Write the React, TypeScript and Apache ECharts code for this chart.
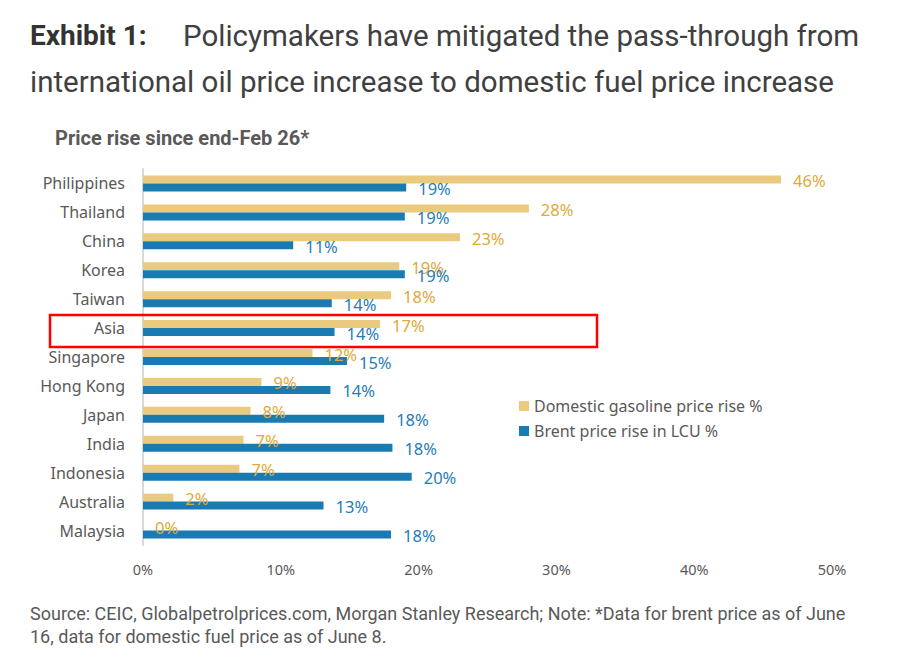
import React, { useEffect, useRef } from "react";
import * as echarts from "echarts";

const categories = [
  "Philippines", "Thailand", "China", "Korea", "Taiwan", "Asia", "Singapore",
  "Hong Kong", "Japan", "India", "Indonesia", "Australia", "Malaysia",
];
const gasoline = [46.3, 28.0, 23.0, 18.6, 18.0, 17.2, 12.3, 8.6, 7.8, 7.3, 7.0, 2.2, 0];
const brent = [19.1, 19.0, 10.9, 19.0, 13.7, 13.9, 14.8, 13.6, 17.5, 18.1, 19.5, 13.1, 18.0];
const xTicks = [0, 10, 20, 30, 40, 50];
const seriesNames = ["Domestic gasoline price rise %", "Brent price rise in LCU %"];

const GOLD = "#E9CA7E";
const BLUE = "#1A7BB3";
const GREY = "#595959";
const FONT = "Noto Sans";

export default function App() {
  const ref = useRef<HTMLDivElement>(null);
  useEffect(() => {
    if (!ref.current) return;
    const chart = echarts.init(ref.current, null, { renderer: "svg" });
    const lbl = (color: string) => ({
      show: true,
      position: "right" as const,
      distance: 12,
      offset: [0, 1],
      color,
      fontFamily: FONT,
      fontSize: 16.5,
      formatter: (p: any) => Math.round(p.value) + "%",
    });
    chart.setOption({
      animation: false,
      backgroundColor: "#ffffff",
      grid: { left: 143, right: 70, top: 169, bottom: 125, containLabel: false },
      xAxis: {
        type: "value",
        min: xTicks[0],
        max: xTicks[xTicks.length - 1],
        interval: 10,
        splitLine: { show: false },
        axisLine: { show: false },
        axisTick: { show: false },
        axisLabel: {
          margin: 16,
          color: GREY,
          fontFamily: FONT,
          fontSize: 14.5,
          formatter: "{value}%",
        },
      },
      yAxis: {
        type: "category",
        data: categories,
        inverse: true,
        axisLine: { show: true, lineStyle: { color: "#D9D9D9", width: 2 } },
        axisTick: { show: false },
        axisLabel: { margin: 18, color: GREY, fontFamily: FONT, fontSize: 16 },
      },
      legend: {
        orient: "vertical",
        left: 514,
        top: 393,
        itemWidth: 10,
        itemHeight: 10,
        itemGap: 9,
        icon: "rect",
        textStyle: { color: GREY, fontFamily: FONT, fontSize: 16 },
        data: seriesNames,
      },
      series: [
        {
          name: seriesNames[0],
          type: "bar",
          data: gasoline,
          barWidth: 8,
          barGap: "0%",
          itemStyle: { color: GOLD },
          label: lbl("#E0AA3A"),
        },
        {
          name: seriesNames[1],
          type: "bar",
          data: brent,
          barWidth: 8,
          barGap: "0%",
          itemStyle: { color: BLUE },
          label: lbl("#1F7DB8"),
        },
      ],
      graphic: [
        {
          type: "text",
          left: 30,
          top: 21,
          style: { text: "Exhibit 1:", font: "bold 28px Roboto", fill: "#333333" },
        },
        {
          type: "text",
          left: 183,
          top: 21,
          style: {
            text: "Policymakers have mitigated the pass-through from",
            font: "29.5px Roboto",
            fill: "#404040",
          },
        },
        {
          type: "text",
          left: 30,
          top: 67,
          style: {
            text: "international oil price increase to domestic fuel price increase",
            font: "29.5px Roboto",
            fill: "#404040",
          },
        },
        {
          type: "text",
          left: 55,
          top: 128,
          style: { text: "Price rise since end-Feb 26*", font: "bold 20px Roboto", fill: GREY },
        },
        {
          type: "rect",
          shape: { x: 50, y: 315, width: 547, height: 32 },
          style: { fill: "none", stroke: "#FF0000", lineWidth: 2.5 },
          z: 10,
        },
        {
          type: "text",
          left: 30,
          top: 604,
          style: {
            text: "Source: CEIC, Globalpetrolprices.com, Morgan Stanley Research; Note: *Data for brent price as of June",
            font: "18px Roboto",
            fill: GREY,
          },
        },
        {
          type: "text",
          left: 30,
          top: 627,
          style: {
            text: "16, data for domestic fuel price as of June 8.",
            font: "18px Roboto",
            fill: GREY,
          },
        },
      ],
    });
    return () => chart.dispose();
  }, []);
  return (
    <div
      ref={ref}
      style={{ position: "fixed", left: 0, top: 0, width: 902, height: 670 }}
    />
  );
}
